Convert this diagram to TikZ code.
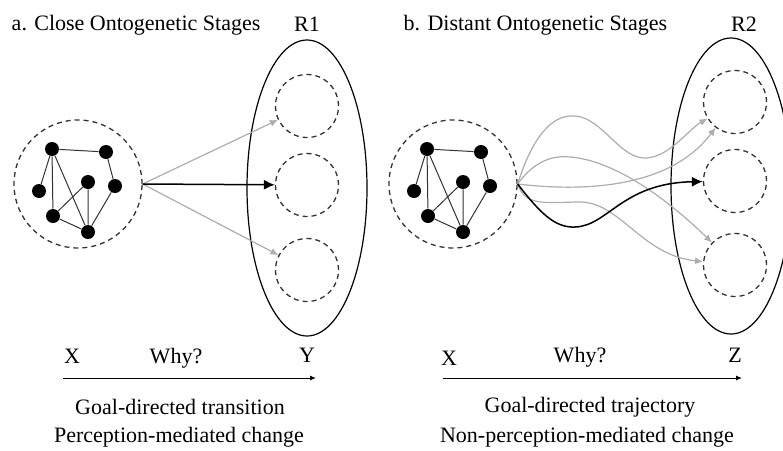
\documentclass[tikz,border=0pt]{standalone}
\usepackage{fontspec}
\setmainfont{Liberation Serif}
\usetikzlibrary{arrows.meta,shapes.geometric}

\begin{document}
\begin{tikzpicture}[x=1pt, y=-1pt, thick, font=\fontsize{22}{26}\selectfont]

	% Fix the page to the size of the reference.
	\useasboundingbox (0,0) rectangle (783,450);

	\tikzstyle{dot}=[circle,fill=black,inner sep=0pt,minimum size=14pt]
	\tikzstyle{link}=[line width=1pt,black!80]
	\tikzstyle{blob}=[circle,draw=black!80,line width=1.3pt,dash pattern=on 5pt off 4pt,inner sep=0pt]
	\tikzstyle{stage}=[blob,minimum size=63pt]
	\tikzstyle{region}=[ellipse,draw,line width=1.2pt,minimum width=120pt,minimum height=296pt,inner sep=0pt]
	\tikzstyle{faint}=[line width=1.2pt,black!32,-{Latex[length=8pt,width=7pt]}]
	\tikzstyle{strong}=[line width=1.5pt,black,-{Latex[length=11pt,width=10pt]}]
	\tikzstyle{axis}=[line width=1pt,-{Latex[length=6pt,width=5pt]}]

	% Networks of the two panels.
	\foreach \p/\s in {a/0,b/375} {
		\begin{scope}[xshift=\s pt]
			\node [blob,minimum size=128pt] (\p net) at (78,184) {};
			\node [dot] (\p1) at (52,149) {};
			\node [dot] (\p2) at (106,152) {};
			\node [dot] (\p3) at (39,191) {};
			\node [dot] (\p4) at (88,182) {};
			\node [dot] (\p5) at (115,186) {};
			\node [dot] (\p6) at (53,216) {};
			\node [dot] (\p7) at (88,232) {};
			\draw [link] (\p1) -- (\p2) -- (\p5) -- (\p7);
			\draw [link] (\p1) -- (\p3);
			\draw [link] (\p1) -- (\p6) -- (\p7);
			\draw [link] (\p1) -- (\p7) -- (\p4) -- (\p6);
			\coordinate (\p src) at (\p net.east);
		\end{scope}
	}

	% Panel a.
	\node [anchor=west] (titlea) at (8,25) {a. Close Ontogenetic Stages};
	\node [region] (R1) at (307,188) {};
	\node (labR1) at (307,24) {R1};
	\node [stage] (a-top) at (307,106) {};
	\node [stage] (a-mid) at (307,185) {};
	\node [stage] (a-bot) at (307,270) {};
	\draw [faint] (asrc) -- (a-top);
	\draw [faint] (asrc) -- (a-bot);
	\draw [strong] (asrc) -- (a-mid);

	\coordinate (axa-l) at (63,378);
	\coordinate (axa-r) at (316,378);
	\draw [axis] (axa-l) -- (axa-r);
	\node (xa) at (72,356) {X};
	\node (whya) at (176,358) {Why?};
	\node (ya) at (307,355) {Y};
	\node (goala) at (180,407) {Goal-directed transition};
	\node (mediata) at (179,437) {Perception-mediated change};

	% Panel b.
	\node [anchor=west] (titleb) at (400,25) {b. Distant Ontogenetic Stages};
	\node [region] (R2) at (731,186) {};
	\node (labR2) at (744,24) {R2};
	\node [stage] (b-top) at (735,102) {};
	\node [stage] (b-mid) at (735,181) {};
	\node [stage] (b-bot) at (735,265) {};
	\draw [faint] (bsrc) .. controls (533,135) and (553,114) .. (575,116)
		.. controls (603,118) and (620,160) .. (647,158)
		.. controls (670,156) and (688,130) .. (b-top);
	\draw [faint] (bsrc) .. controls (585,192) and (670,188) .. (b-top);
	\draw [faint] (bsrc) .. controls (533,163) and (550,155) .. (570,157)
		.. controls (610,160) and (660,192) .. (b-bot);
	\draw [faint] (bsrc) .. controls (525,205) and (540,203) .. (577,202)
		.. controls (620,200) and (640,255) .. (b-bot);
	\draw [strong] (bsrc) .. controls (540,213) and (555,228) .. (575,227)
		.. controls (608,226) and (622,183) .. (b-mid);

	\coordinate (axb-l) at (443,378);
	\coordinate (axb-r) at (742,378);
	\draw [axis] (axb-l) -- (axb-r);
	\node (xb) at (449,358) {X};
	\node (whyb) at (580,357) {Why?};
	\node (zb) at (735,355) {Z};
	\node (goalb) at (590,407) {Goal-directed trajectory};
	\node (mediatb) at (587,437) {Non-perception-mediated change};

\end{tikzpicture}
\end{document}
